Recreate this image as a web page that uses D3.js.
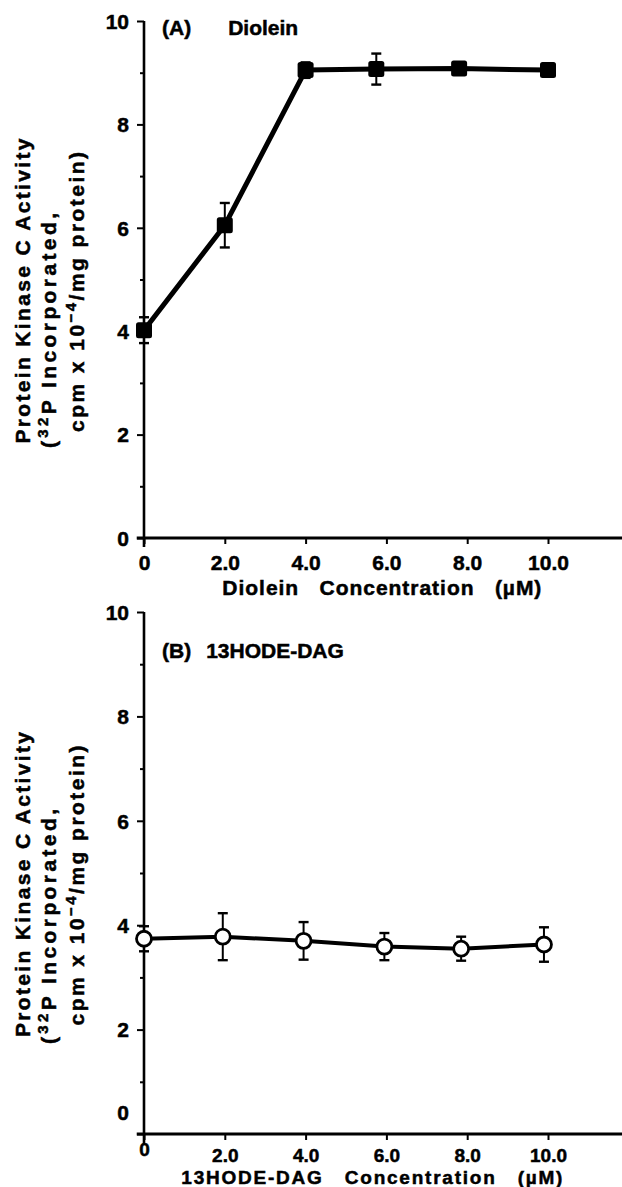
<!DOCTYPE html>
<html>
<head>
<meta charset="utf-8">
<script src="https://cdn.jsdelivr.net/npm/d3@7"></script>
<style>
  body { margin: 0; background: #fff; }
  svg { display: block; }
  text { font-family: 'Liberation Sans', Arial, Helvetica, sans-serif; font-weight: bold; fill: #000; stroke: #000; stroke-width: 0.5px; }
</style>
</head>
<body>
<div id="chart"></div>
<script>
const xTicks = [0, 2, 4, 6, 8, 10];
const xTickLabels = ['0', '2.0', '4.0', '6.0', '8.0', '10.0'];
const yTicks = [0, 1, 2, 3, 4, 5, 6, 7, 8, 9, 10];
const yTickLabels = ['0', '', '2', '', '4', '', '6', '', '8', '', '10'];

// panel A: diolein
const dioleinX = [0, 2.0, 4.0, 5.75, 7.8, 10.0];
const dioleinY = [4.02, 6.05, 9.05, 9.07, 9.08, 9.05];
const dioleinErr = [0.25, 0.43, 0.15, 0.30, 0.12, 0.12];

// panel B: 13HODE-DAG
const hodeX = [0, 1.95, 3.95, 5.95, 7.85, 9.9];
const hodeY = [3.74, 3.78, 3.70, 3.59, 3.55, 3.63];
const hodeErr = [0.24, 0.45, 0.36, 0.26, 0.23, 0.33];

const W = 622, H = 1187;
const svg = d3.select('#chart').append('svg').attr('width', W).attr('height', H);

function drawPanel(p) {
  const x = d3.scaleLinear().domain([0, 10]).range([144, 548]);
  const y = d3.scaleLinear().domain([0, 10]).range(p.yRange);
  const g = svg.append('g');
  const y0 = y(0);

  // y axis
  const ya = g.append('g').attr('transform', `translate(${x(0)},0)`)
    .call(d3.axisLeft(y).tickValues(yTicks).tickSize(7).tickPadding(8)
      .tickFormat((d, i) => yTickLabels[i]));
  ya.select('.domain').remove();
  ya.selectAll('.tick line').attr('stroke-width', 2)
    .attr('x2', d => d % 2 === 0 ? -7 : -4);
  ya.selectAll('.tick text').style('font-size', '21px')
    .attr('dy', (d) => d === 0 && p.zeroYShift ? `${0.35 - p.zeroYShift / 21}em` : '0.35em');
  g.append('line').attr('x1', x(0)).attr('x2', x(0))
    .attr('y1', y(10)).attr('y2', y0 + p.yAxisExtra)
    .attr('stroke', '#000').attr('stroke-width', 2.6);

  // x axis
  const xa = g.append('g').attr('transform', `translate(0,${y0})`)
    .call(d3.axisBottom(x).tickValues(xTicks).tickSize(6).tickPadding(p.xPad)
      .tickFormat((d, i) => xTickLabels[i]));
  xa.select('.domain').remove();
  xa.selectAll('.tick line').attr('stroke-width', 2);
  xa.selectAll('.tick text').style('font-size', p.xFont + 'px')
    .attr('transform', d => d === 0 && p.zeroXShift ? `translate(0,${-p.zeroXShift})` : null);
  g.append('line').attr('x1', x(-0.18)).attr('x2', x(11.85))
    .attr('y1', y0).attr('y2', y0)
    .attr('stroke', '#000').attr('stroke-width', 2.8);

  // x label
  g.append('text').attr('x', (x(0) + x(11.85)) / 2 + p.xLabelDx).attr('y', y0 + p.xLabelDy)
    .attr('text-anchor', 'middle').style('font-size', p.xFont + 'px')
    .style('white-space', 'pre').style('letter-spacing', '1px')
    .attr('textLength', p.xLabelLen).attr('lengthAdjust', 'spacing')
    .text(p.xLabel);

  // panel title
  const t = g.append('text').attr('x', 162).attr('y', y(10) + p.titleDy)
    .style('font-size', '21px').style('white-space', 'pre');
  t.append('tspan').text(p.tag);
  t.append('tspan').attr('dx', p.titleGap).text(p.title);

  // y label (three rotated lines)
  const cy = (y(10) + y0) / 2 + 11.5;
  g.append('text').attr('transform', `translate(30,${cy}) rotate(-90)`)
    .attr('text-anchor', 'middle').style('font-size', '21px')
    .attr('textLength', 305).attr('lengthAdjust', 'spacing')
    .text('Protein Kinase C Activity');
  const l2 = g.append('text').attr('transform', `translate(56,${y0 - 90}) rotate(-90)`)
    .attr('text-anchor', 'start').style('font-size', '21px')
    .attr('textLength', 235).attr('lengthAdjust', 'spacing');
  l2.append('tspan').text('(');
  l2.append('tspan').style('font-size', '15px').attr('dy', -8).text('32');
  l2.append('tspan').attr('dy', 8).text('P Incorporated,');
  const l3 = g.append('text').attr('transform', `translate(84,${cy + 1}) rotate(-90)`)
    .attr('text-anchor', 'middle').style('font-size', '21px')
    .attr('textLength', 280).attr('lengthAdjust', 'spacing');
  l3.append('tspan').text('cpm x 10');
  l3.append('tspan').style('font-size', '15px').attr('dy', -8).text('\u22124');
  l3.append('tspan').attr('dy', 8).text('/mg protein)');

  // data
  const pts = p.xs.map((v, i) => ({ x: v, y: p.ys[i], e: p.errs[i] }));
  g.append('path').datum(pts)
    .attr('d', d3.line().x(d => x(d.x)).y(d => y(d.y)))
    .attr('fill', 'none').attr('stroke', '#000').attr('stroke-width', p.lineW)
    .attr('stroke-linejoin', 'round');

  const eb = g.selectAll(null).data(pts).enter().append('g').attr('stroke', '#000').attr('stroke-width', 2);
  eb.append('line').attr('x1', d => x(d.x)).attr('x2', d => x(d.x))
    .attr('y1', d => y(d.y + d.e)).attr('y2', d => y(d.y - d.e));
  eb.append('line').attr('x1', d => x(d.x) - 5).attr('x2', d => x(d.x) + 5)
    .attr('y1', d => y(d.y + d.e)).attr('y2', d => y(d.y + d.e)).attr('stroke-width', 2.4);
  eb.append('line').attr('x1', d => x(d.x) - 5).attr('x2', d => x(d.x) + 5)
    .attr('y1', d => y(d.y - d.e)).attr('y2', d => y(d.y - d.e)).attr('stroke-width', 2.4);

  if (p.marker === 'square') {
    g.selectAll(null).data(pts).enter().append('rect')
      .attr('x', d => x(d.x) - 8).attr('y', d => y(d.y) - 8)
      .attr('width', 16).attr('height', 16).attr('rx', 2.5)
      .attr('fill', '#000');
  } else {
    g.selectAll(null).data(pts).enter().append('circle')
      .attr('cx', d => x(d.x)).attr('cy', d => y(d.y)).attr('r', 7.5)
      .attr('fill', '#fff').attr('stroke', '#000').attr('stroke-width', 2.8);
  }
}

drawPanel({
  yRange: [538, 21], yAxisExtra: 9, xPad: 11, xFont: 21, xLabelDy: 57, xLabelDx: -1, xLabelLen: 320,
  xLabel: 'Diolein   Concentration   (\u00b5M)',
  tag: '(A)', title: 'Diolein', titleGap: 37, titleDy: 14,
  xs: dioleinX, ys: dioleinY, errs: dioleinErr, marker: 'square', lineW: 5
});

drawPanel({
  yRange: [1134, 612], yAxisExtra: 11, xPad: 9, xFont: 19, xLabelDy: 50, xLabelDx: -11, xLabelLen: 382,
  zeroYShift: 22, zeroXShift: 6,
  xLabel: '13HODE-DAG   Concentration   (\u00b5M)',
  tag: '(B)', title: '13HODE-DAG', titleGap: 15, titleDy: 46,
  xs: hodeX, ys: hodeY, errs: hodeErr, marker: 'circle', lineW: 4
});
</script>
</body>
</html>
